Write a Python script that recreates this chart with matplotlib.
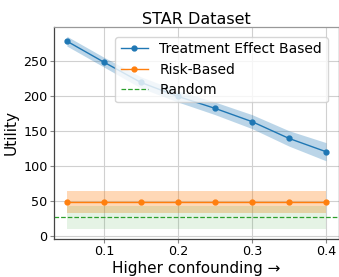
import matplotlib
matplotlib.use("Agg")
import matplotlib.pyplot as plt
import numpy as np

x = [0.05, 0.1, 0.15, 0.2, 0.25, 0.3, 0.35, 0.4]
te_mean = [278, 248, 219, 199, 182, 163, 139, 120]
te_err = [7, 7, 8, 8, 9, 10, 11, 13]
risk_mean = [48, 48, 48, 48, 48, 48, 48, 48]
risk_err = [15.5, 15.5, 15.5, 15.5, 15.5, 15.5, 15.5, 15.5]
rand_mean = [26, 26, 26, 26, 26, 26, 26, 26]
rand_err = [17, 17, 17, 17, 17, 17, 17, 17]

fig = plt.figure(figsize=(3.39, 2.77), dpi=100)
ax = fig.add_axes([0.159, 0.137, 0.841, 0.767])

xa = np.array(x)
te_m, te_e = np.array(te_mean), np.array(te_err)
rk_m, rk_e = np.array(risk_mean), np.array(risk_err)
rd_m, rd_e = np.array(rand_mean), np.array(rand_err)

ax.plot(xa, te_m, marker='o', markersize=3.5, lw=1, color='tab:blue', label='Treatment Effect Based')
ax.fill_between(xa, te_m - te_e, te_m + te_e, color='tab:blue', alpha=0.3, lw=0)
ax.plot(xa, rk_m, marker='o', markersize=3.5, lw=1, color='tab:orange', label='Risk-Based')
ax.fill_between(xa, rk_m - rk_e, rk_m + rk_e, color='tab:orange', alpha=0.3, lw=0)
ax.axhline(rd_m[0], color='tab:green', ls='--', lw=0.9, label='Random')
ax.fill_between(xa, rd_m - rd_e, rd_m + rd_e, color='tab:green', alpha=0.12, lw=0)

ax.set_xticks([0.1, 0.2, 0.3, 0.4])
ax.set_yticks([0, 50, 100, 150, 200, 250])
ax.tick_params(length=3, width=0.8, color='#888888', labelsize=9.2, pad=1.5)
ax.grid(True, color='#d0d0d0', lw=0.8)
ax.set_axisbelow(True)
for s in ax.spines.values():
    s.set_color('#444444')
    s.set_linewidth(0.9)
ax.spines['top'].set_color('#999999')

ax.set_title('STAR Dataset', fontsize=11.5, pad=2.2)
ax.set_xlabel('Higher confounding →', fontsize=11, labelpad=2)
ax.set_ylabel('Utility', fontsize=11, labelpad=3)
ax.legend(loc='upper right', fontsize=10, borderaxespad=0.5, handlelength=2.0,
          labelspacing=0.45, borderpad=0.4, handletextpad=0.8,
          bbox_to_anchor=(0.985, 0.985))

fig.savefig('out.png', dpi=100)
